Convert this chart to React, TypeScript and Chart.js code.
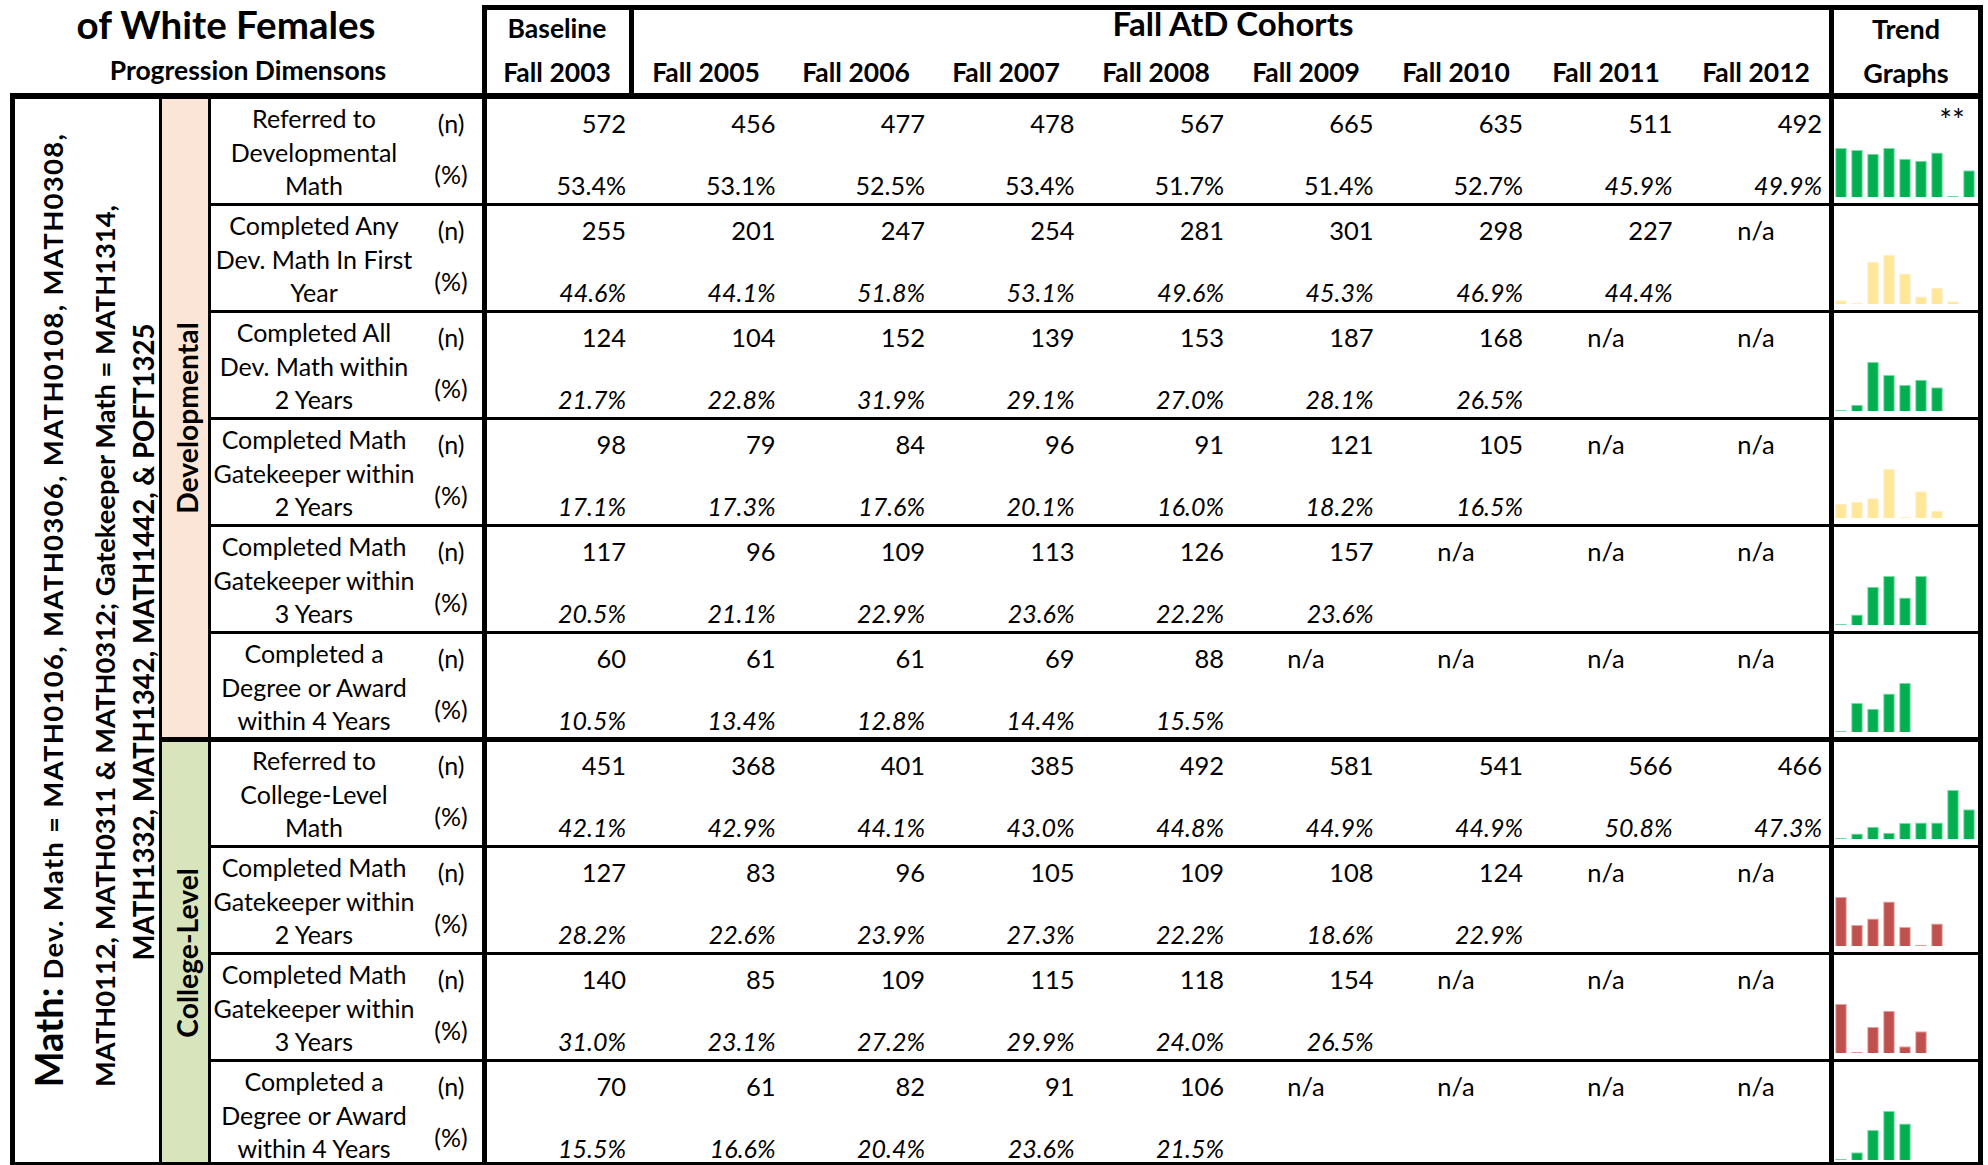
import React, { useEffect, useRef } from "react";
import { Chart, registerables } from "chart.js";
Chart.register(...registerables);

// ---------- DATA ----------
const COHORTS = ["Fall 2003", "Fall 2005", "Fall 2006", "Fall 2007", "Fall 2008", "Fall 2009", "Fall 2010", "Fall 2011", "Fall 2012"];
const AtD_COHORTS = ["Fall 2005", "Fall 2006", "Fall 2007", "Fall 2008", "Fall 2009", "Fall 2010", "Fall 2011", "Fall 2012"];

const refDevN = [572, 456, 477, 478, 567, 665, 635, 511, 492];
const refDevPct = [53.4, 53.1, 52.5, 53.4, 51.7, 51.4, 52.7, 45.9, 49.9];
const anyDevFirstYearN = [255, 201, 247, 254, 281, 301, 298, 227, null];
const anyDevFirstYearPct = [44.6, 44.1, 51.8, 53.1, 49.6, 45.3, 46.9, 44.4, null];
const allDev2YrN = [124, 104, 152, 139, 153, 187, 168, null, null];
const allDev2YrPct = [21.7, 22.8, 31.9, 29.1, 27.0, 28.1, 26.5, null, null];
const devGate2YrN = [98, 79, 84, 96, 91, 121, 105, null, null];
const devGate2YrPct = [17.1, 17.3, 17.6, 20.1, 16.0, 18.2, 16.5, null, null];
const devGate3YrN = [117, 96, 109, 113, 126, 157, null, null, null];
const devGate3YrPct = [20.5, 21.1, 22.9, 23.6, 22.2, 23.6, null, null, null];
const devDegree4YrN = [60, 61, 61, 69, 88, null, null, null, null];
const devDegree4YrPct = [10.5, 13.4, 12.8, 14.4, 15.5, null, null, null, null];
const refColN = [451, 368, 401, 385, 492, 581, 541, 566, 466];
const refColPct = [42.1, 42.9, 44.1, 43.0, 44.8, 44.9, 44.9, 50.8, 47.3];
const colGate2YrN = [127, 83, 96, 105, 109, 108, 124, null, null];
const colGate2YrPct = [28.2, 22.6, 23.9, 27.3, 22.2, 18.6, 22.9, null, null];
const colGate3YrN = [140, 85, 109, 115, 118, 154, null, null, null];
const colGate3YrPct = [31.0, 23.1, 27.2, 29.9, 24.0, 26.5, null, null, null];
const colDegree4YrN = [70, 61, 82, 91, 106, null, null, null, null];
const colDegree4YrPct = [15.5, 16.6, 20.4, 23.6, 21.5, null, null, null, null];

const ROW_LABELS = [
  ["Referred to", "Developmental", "Math"],
  ["Completed Any", "Dev. Math In First", "Year"],
  ["Completed All", "Dev. Math within", "2 Years"],
  ["Completed Math", "Gatekeeper within", "2 Years"],
  ["Completed Math", "Gatekeeper within", "3 Years"],
  ["Completed a", "Degree or Award", "within 4 Years"],
  ["Referred to", "College-Level", "Math"],
  ["Completed Math", "Gatekeeper within", "2 Years"],
  ["Completed Math", "Gatekeeper within", "3 Years"],
  ["Completed a", "Degree or Award", "within 4 Years"],
];
const ROW_N = [refDevN, anyDevFirstYearN, allDev2YrN, devGate2YrN, devGate3YrN, devDegree4YrN, refColN, colGate2YrN, colGate3YrN, colDegree4YrN];
const ROW_PCT = [refDevPct, anyDevFirstYearPct, allDev2YrPct, devGate2YrPct, devGate3YrPct, devDegree4YrPct, refColPct, colGate2YrPct, colGate3YrPct, colDegree4YrPct];

// ---------- STYLE ----------
const GREEN = "#00B050";
const YELLOW = "#FFE699";
const RED = "#C0504D";
const TREND_COLORS = [GREEN, YELLOW, GREEN, YELLOW, GREEN, GREEN, GREEN, RED, RED, GREEN];
const TREND_BORDERS = ["#7fd8a8", "#fff0c4", "#7fd8a8", "#fff0c4", "#7fd8a8", "#7fd8a8", "#7fd8a8", "#dda5a4", "#dda5a4", "#7fd8a8"];
// number of leading upright (non-italic) percentages per row
const UPRIGHT_PCT = [7, 0, 0, 0, 0, 0, 0, 0, 0, 0];

const FONT = "Lato, 'Open Sans', sans-serif";
const ROW_TOP = 97;
const ROW_H = 107;
const rowY = (k: number) => ROW_TOP + ROW_H * k;
const colRight = (j: number) => 626 + 149.5 * j;
const colCenter = (j: number) => (j === 0 ? 557 : 631 + 150 * (j - 1) + 75);

function Spark({ values, color, border, left, top, width, height }: any) {
  const ref = useRef<HTMLCanvasElement>(null);
  useEffect(() => {
    const vals = values.filter((v: any) => v != null) as number[];
    const mn = Math.min(...vals);
    const mx = Math.max(...vals);
    const chart = new Chart(ref.current!, {
      type: "bar",
      data: {
        labels: COHORTS,
        datasets: [
          {
            data: values,
            backgroundColor: color,
            borderColor: border,
            borderWidth: 1,
            barPercentage: 0.73,
            categoryPercentage: 1,
          },
        ],
      },
      options: {
        responsive: false,
        animation: false,
        events: [],
        layout: { padding: 0 },
        plugins: { legend: { display: false }, tooltip: { enabled: false } },
        scales: {
          x: { display: false },
          y: { display: false, min: mn - (mx - mn) * 0.025, max: mx },
        },
      },
    });
    return () => chart.destroy();
  }, []);
  return (
    <canvas
      ref={ref}
      width={width}
      height={height}
      style={{ position: "absolute", left, top, width, height }}
    />
  );
}

function Txt({ x, y, children, align = "center", size = 22, bold = false, italic = false, rotate = false, spacing = 0 }: any) {
  const tx = align === "center" ? "-50%" : align === "right" ? "-100%" : "0";
  return (
    <div
      style={{
        position: "absolute",
        left: x,
        top: y,
        transform: rotate ? "translate(-50%,-50%) rotate(-90deg)" : `translate(${tx},-50%)`,
        fontFamily: FONT,
        fontSize: size,
        fontWeight: bold ? 700 : 400,
        fontStyle: italic ? "italic" : "normal",
        letterSpacing: spacing,
        lineHeight: 1,
        whiteSpace: "nowrap",
        color: "#000",
      }}
    >
      {children}
    </div>
  );
}

const Box = ({ x, y, w, h, bg = "#000" }: any) => (
  <div style={{ position: "absolute", left: x, top: y, width: w, height: h, background: bg }} />
);

export default function App() {
  const lines: any[] = [];
  // header box
  lines.push(<Box key="ht" x={482} y={5} w={1501} h={5} />);
  lines.push(<Box key="hb" x={10} y={93} w={1973} h={6} />);
  lines.push(<Box key="hv" x={629} y={5} w={5} h={91} />);
  // verticals
  lines.push(<Box key="vl" x={10} y={93} w={5} h={1080} />);
  lines.push(<Box key="vd" x={482} y={5} w={5} h={1168} />);
  lines.push(<Box key="vt" x={1829} y={5} w={5} h={1168} />);
  lines.push(<Box key="vr" x={1978} y={5} w={5} h={1168} />);
  lines.push(<Box key="vm" x={159} y={96} w={3} h={1075} />);
  lines.push(<Box key="vb" x={208} y={96} w={3} h={1075} />);
  // row lines
  for (let k = 1; k <= 9; k++) {
    const y = rowY(k);
    if (k === 6) lines.push(<Box key={"r" + k} x={159} y={y - 2.5} w={1824} h={5} />);
    else lines.push(<Box key={"r" + k} x={209} y={y - 1.5} w={1774} h={3} />);
  }
  lines.push(<Box key="bot" x={10} y={1162} w={1973} h={6} />);

  const cells: any[] = [];
  ROW_LABELS.forEach((lab, k) => {
    const top = rowY(k);
    lab.forEach((s, i) => {
      cells.push(
        <Txt key={`l${k}-${i}`} x={314} y={top + 21 + i * 33.5} size={25}>
          {s}
        </Txt>
      );
    });
    cells.push(<Txt key={`n${k}`} x={451} y={top + 26} size={25}>(n)</Txt>);
    cells.push(<Txt key={`p${k}`} x={451} y={top + 77} size={25}>(%)</Txt>);
    ROW_N[k].forEach((v, j) => {
      if (v == null) {
        cells.push(
          <Txt key={`v${k}-${j}`} x={colCenter(j)} y={top + 27} size={25.5}>
            n/a
          </Txt>
        );
      } else {
        cells.push(
          <Txt key={`v${k}-${j}`} x={colRight(j)} y={top + 27} size={25.5} align="right">
            {String(v)}
          </Txt>
        );
      }
    });
    ROW_PCT[k].forEach((v, j) => {
      if (v == null) return;
      cells.push(
        <Txt key={`q${k}-${j}`} x={colRight(j)} y={top + 88} size={25} align="right" italic={j >= UPRIGHT_PCT[k]}>
          {v.toFixed(1) + "%"}
        </Txt>
      );
    });
  });

  const sparks = ROW_PCT.map((vals, k) => (
    <Spark
      key={"s" + k}
      values={vals}
      color={TREND_COLORS[k]}
      border={TREND_BORDERS[k]}
      left={1833}
      top={rowY(k + 1) - 7 - 49}
      width={144}
      height={49}
    />
  ));

  return (
    <div style={{ position: "fixed", left: 0, top: 0, width: 1988, height: 1165, overflow: "hidden", background: "#fff" }}>
      {/* bands */}
      <Box x={162} y={99} w={46} h={rowY(6) - 99} bg="#FBE5D6" />
      <Box x={162} y={rowY(6)} w={46} h={1165 - rowY(6)} bg="#D8E4BC" />

      {/* headers */}
      <Txt x={226} y={24} size={38.5} bold>of White Females</Txt>
      <Txt x={248} y={70} size={26.5} bold>Progression Dimensons</Txt>
      <Txt x={557} y={28} size={26.5} bold>Baseline</Txt>
      <Txt x={557} y={72} size={26.5} bold>{COHORTS[0]}</Txt>
      <Txt x={1233} y={23} size={33} bold>Fall AtD Cohorts</Txt>
      {AtD_COHORTS.map((c, i) => (
        <Txt key={c} x={colCenter(i + 1)} y={72} size={26.5} bold>
          {c}
        </Txt>
      ))}
      <Txt x={1906} y={28} size={27} bold>Trend</Txt>
      <Txt x={1906} y={72} size={27} bold>Graphs</Txt>
      <Txt x={1952} y={119} size={30}>**</Txt>

      {/* vertical texts */}
      <Txt x={48} y={610} rotate bold size={27.5} spacing={1.3}>
        <span style={{ fontSize: 38, letterSpacing: 0 }}>Math:</span> Dev. Math = MATH0106, MATH0306, MATH0108, MATH0308,
      </Txt>
      <Txt x={105} y={646} rotate bold size={27.3}>
        MATH0112, MATH0311 &amp; MATH0312; Gatekeeper Math = MATH1314,
      </Txt>
      <Txt x={144} y={642} rotate bold size={27.6}>
        MATH1332, MATH1342, MATH1442, &amp; POFT1325
      </Txt>
      <Txt x={187} y={418} rotate bold size={28.3}>Developmental</Txt>
      <Txt x={187} y={953} rotate bold size={28.3}>College-Level</Txt>

      {cells}
      {sparks}
      {lines}
    </div>
  );
}
